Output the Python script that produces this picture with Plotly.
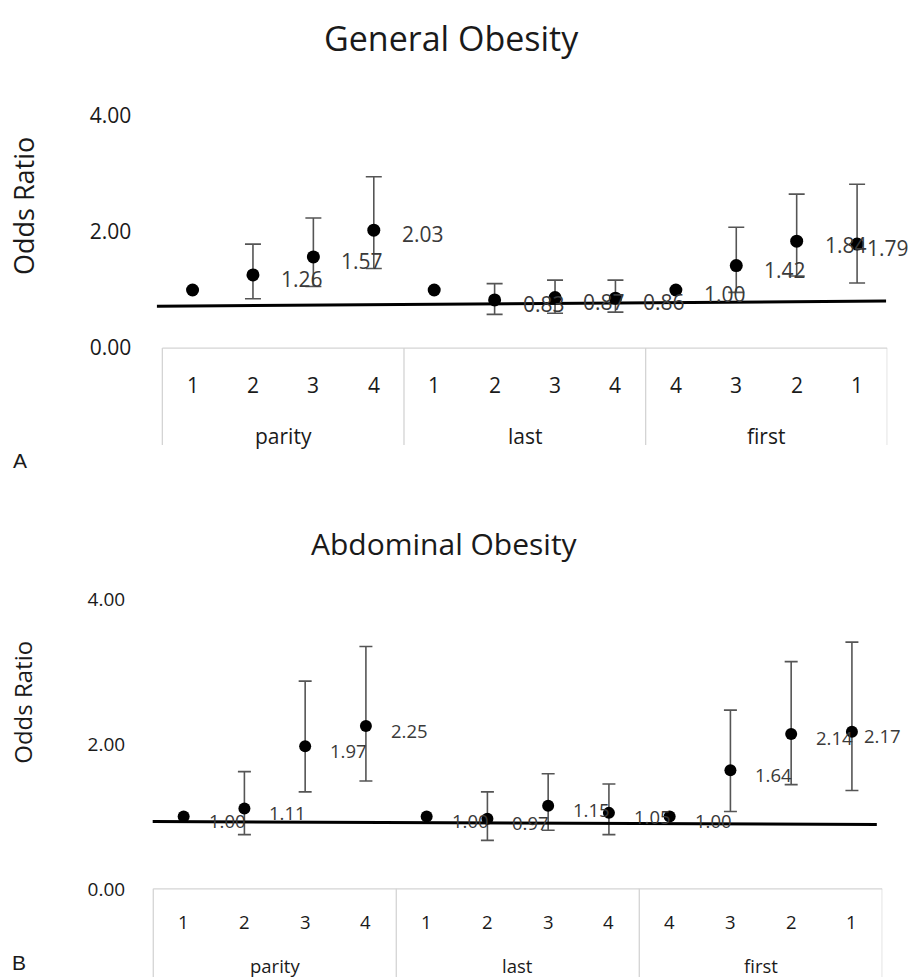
import plotly.graph_objects as go

# ---------------- data ----------------
groups = ["parity", "last", "first"]
sub_labels = ["1", "2", "3", "4", "1", "2", "3", "4", "4", "3", "2", "1"]

# General Obesity (panel A)
gen_or = [1.00, 1.26, 1.57, 2.03, 1.00, 0.83, 0.87, 0.86, 1.00, 1.42, 1.84, 1.79]
gen_hi = [None, 1.79, 2.24, 2.95, None, 1.11, 1.17, 1.17, None, 2.08, 2.65, 2.82]
gen_lo = [None, 0.85, 1.06, 1.37, None, 0.58, 0.60, 0.62, None, 0.96, 1.24, 1.12]
gen_labels = [None, "1.26", "1.57", "2.03", None, "0.83", "0.87", "0.86", "1.00", "1.42", "1.84", "1.79"]
gen_line_x = [-0.09, 11.98]
gen_line_y = [0.72, 0.81]

# Abdominal Obesity (panel B)
abd_or = [1.00, 1.11, 1.97, 2.25, 1.00, 0.97, 1.15, 1.05, 1.00, 1.64, 2.14, 2.17]
abd_hi = [None, 1.62, 2.87, 3.35, None, 1.34, 1.59, 1.45, None, 2.47, 3.14, 3.41]
abd_lo = [None, 0.75, 1.34, 1.49, None, 0.67, 0.81, 0.75, None, 1.07, 1.44, 1.36]
abd_labels = ["1.00", "1.11", "1.97", "2.25", "1.00", "0.97", "1.15", "1.05", "1.00", "1.64", "2.14", "2.17"]
abd_line_x = [-0.01, 11.91]
abd_line_y = [0.93, 0.89]

y_ticks = [0, 2, 4]

# ---------------- layout helpers ----------------
W, H = 908, 977
FONT = "Open Sans"
TXT = "#1a1a1a"
LBL = "#3a3a3a"
BOX = "#d4d4d4"

def px_x(p):
    return p / W

def px_y(p):
    return 1 - p / H

panels = [
    dict(name="General Obesity", orv=gen_or, hi=gen_hi, lo=gen_lo, labels=gen_labels,
         lx=gen_line_x, ly=gen_line_y, xa="x", ya="y",
         xdom=[px_x(156.3), px_x(887.3)], ydom=[px_y(436.7), px_y(102.3)],
         yrange=[-1.668, 4], title_xy=(451.7, 23), title_size=34,
         ytitle_xy=(23, 194), ytitle_size=27, tick_size=21, lbl_size=21,
         cat_size=21, cat_shift=-36.7, grp_shift=-87.7, lbl_xshift=26, last_xshift=8,
         cap=8, msize=13, standoff=24, letter="A", letter_xy=(20, 452)),
    dict(name="Abdominal Obesity", orv=abd_or, hi=abd_hi, lo=abd_lo, labels=abd_labels,
         lx=abd_line_x, ly=abd_line_y, xa="x2", ya="y2",
         xdom=[px_x(147.2), px_x(882.3)], ydom=[0, px_y(593.5)],
         yrange=[-1.218, 4], title_xy=(444, 537), title_size=30,
         ytitle_xy=(23, 698.5), ytitle_size=24, tick_size=19, lbl_size=18.5,
         cat_size=18.5, cat_shift=-32.8, grp_shift=-76.2, lbl_xshift=23, last_xshift=10,
         cap=6.5, msize=12, standoff=21, letter="B", letter_xy=(19, 962)),
]

fig = go.Figure()
annotations = []
shapes = []

for p in panels:
    xs = [i + 0.5 for i in range(len(sub_labels))]
    # error bars (only where CIs exist)
    ex, ey, eplus, eminus = [], [], [], []
    for x, v, h, l in zip(xs, p["orv"], p["hi"], p["lo"]):
        if h is not None:
            ex.append(x); ey.append(v); eplus.append(h - v); eminus.append(v - l)
    fig.add_trace(go.Scatter(
        x=ex, y=ey, mode="markers", xaxis=p["xa"], yaxis=p["ya"],
        marker=dict(size=1, color="rgba(0,0,0,0)"),
        error_y=dict(type="data", array=eplus, arrayminus=eminus, symmetric=False,
                     color="#555555", thickness=1.6, width=p["cap"]),
        hoverinfo="skip"))
    # points
    fig.add_trace(go.Scatter(
        x=xs, y=p["orv"], mode="markers", xaxis=p["xa"], yaxis=p["ya"],
        marker=dict(size=p["msize"], color="black")))
    # reference line
    fig.add_trace(go.Scatter(
        x=p["lx"], y=p["ly"], mode="lines", xaxis=p["xa"], yaxis=p["ya"],
        line=dict(color="black", width=3), hoverinfo="skip"))

    # data labels
    n = len(xs)
    for i, (x, v, t) in enumerate(zip(xs, p["orv"], p["labels"])):
        if t is None:
            continue
        annotations.append(dict(
            x=x, y=v, xref=p["xa"], yref=p["ya"], text=t, showarrow=False,
            xanchor="left", yanchor="middle",
            xshift=p["lbl_xshift"] if i < n - 1 else p["last_xshift"], yshift=-4,
            font=dict(family=FONT, size=p["lbl_size"], color=LBL)))

    # category box
    shapes.append(dict(type="line", xref=p["xa"], yref=p["ya"], x0=0, x1=12, y0=0, y1=0,
                       line=dict(color=BOX, width=1.3)))
    for b in [0, 4, 8, 12]:
        shapes.append(dict(type="line", xref=p["xa"], yref=p["ya"], x0=b, x1=b,
                           y0=0, y1=p["yrange"][0], line=dict(color=BOX, width=1.3)))
    for x, s in zip(xs, sub_labels):
        annotations.append(dict(
            x=x, y=0, xref=p["xa"], yref=p["ya"], text=s, showarrow=False,
            yanchor="middle", yshift=p["cat_shift"],
            font=dict(family=FONT, size=p["cat_size"], color=TXT)))
    for g, name in enumerate(groups):
        annotations.append(dict(
            x=4 * g + 2, y=0, xref=p["xa"], yref=p["ya"], text=name, showarrow=False,
            yanchor="middle", yshift=p["grp_shift"],
            font=dict(family=FONT, size=p["cat_size"], color=TXT)))

    # titles
    tx, ty = p["title_xy"]
    annotations.append(dict(x=px_x(tx), y=px_y(ty), xref="paper", yref="paper",
                            text=p["name"], showarrow=False, xanchor="center", yanchor="middle",
                            font=dict(family=FONT, size=p["title_size"], color=TXT)))
    ax_, ay_ = p["ytitle_xy"]
    annotations.append(dict(x=px_x(ax_), y=px_y(ay_), xref="paper", yref="paper",
                            text="Odds Ratio", showarrow=False, textangle=-90,
                            xanchor="center", yanchor="middle",
                            font=dict(family=FONT, size=p["ytitle_size"], color=TXT)))
    lx_, ly_ = p["letter_xy"]
    annotations.append(dict(x=px_x(lx_), y=px_y(ly_), xref="paper", yref="paper",
                            text=p["letter"], showarrow=False, xanchor="center", yanchor="middle",
                            font=dict(family="Liberation Sans", size=21, color=TXT)))

def xaxis(p):
    return dict(domain=p["xdom"], range=[-0.1, 12], visible=False, anchor=p["ya"],
                fixedrange=True)

def yaxis(p):
    return dict(domain=p["ydom"], range=p["yrange"], anchor=p["xa"],
                tickvals=y_ticks, tickformat=".2f", showgrid=False, zeroline=False,
                showline=False, ticks="", ticklabelstandoff=p["standoff"],
                tickfont=dict(family=FONT, size=p["tick_size"], color=TXT))

fig.update_layout(
    width=W, height=H, margin=dict(l=0, r=0, t=0, b=0),
    paper_bgcolor="white", plot_bgcolor="white", showlegend=False,
    xaxis=xaxis(panels[0]), yaxis=yaxis(panels[0]),
    xaxis2=xaxis(panels[1]), yaxis2=yaxis(panels[1]),
    annotations=annotations, shapes=shapes,
)

fig.write_html(
    "out.html",
    config={"displayModeBar": False},
    post_script="document.body.style.margin='0';document.body.style.overflow='hidden';",
)
